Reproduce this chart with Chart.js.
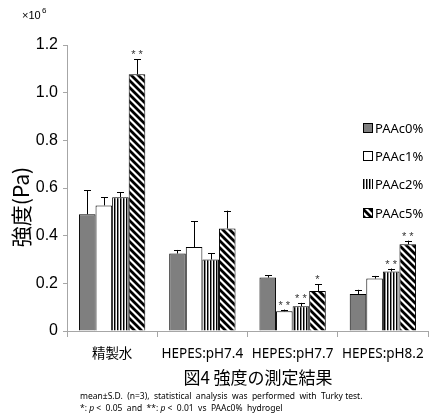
<!DOCTYPE html>
<html>
<head>
<meta charset="utf-8">
<script src="https://cdn.jsdelivr.net/npm/chart.js@4/dist/chart.umd.min.js"></script>
<style>
  html, body { margin: 0; padding: 0; background: #fff; }
  #wrap { width: 439px; height: 416px; }
</style>
</head>
<body>
<div id="wrap"><canvas id="c" width="439" height="416"></canvas></div>
<script>
// Categories (buffer conditions)
const categories = ['精製水', 'HEPES:pH7.4', 'HEPES:pH7.7', 'HEPES:pH8.2'];
const seriesNames = ['PAAc0%', 'PAAc1%', 'PAAc2%', 'PAAc5%'];

// Mean strength (×10^6 Pa)
const paac0 = [0.490, 0.325, 0.224, 0.155];
const paac1 = [0.527, 0.352, 0.083, 0.220];
const paac2 = [0.561, 0.300, 0.104, 0.250];
const paac5 = [1.077, 0.430, 0.168, 0.364];

// Standard deviations (×10^6 Pa)
const sd0 = [0.100, 0.015, 0.010, 0.018];
const sd1 = [0.034, 0.108, 0.007, 0.011];
const sd2 = [0.022, 0.026, 0.014, 0.012];
const sd5 = [0.063, 0.075, 0.029, 0.015];

// Significance marks vs PAAc0%
const sig0 = ['', '', '', ''];
const sig1 = ['', '', '**', ''];
const sig2 = ['', '', '**', '**'];
const sig5 = ['**', '', '*', '**'];

// Y axis tick values
const yTicks = [0, 0.2, 0.4, 0.6, 0.8, 1.0, 1.2];

const allSd = [sd0, sd1, sd2, sd5];
const allSig = [sig0, sig1, sig2, sig5];

// ---- fill patterns ----
function stripePattern() {
  const c = document.createElement('canvas');
  c.width = 3; c.height = 3;
  const g = c.getContext('2d');
  g.fillStyle = '#ffffff'; g.fillRect(0, 0, 3, 3);
  g.fillStyle = '#000000'; g.fillRect(0, 0, 1, 3);
  g.fillStyle = '#8a8a8a'; g.fillRect(1, 0, 1, 3);
  return g.createPattern(c, 'repeat');
}
function diagPattern() {
  const s = 7;
  const c = document.createElement('canvas');
  c.width = s; c.height = s;
  const g = c.getContext('2d');
  g.fillStyle = '#ffffff'; g.fillRect(0, 0, s, s);
  g.strokeStyle = '#000000'; g.lineWidth = 2.8;
  g.beginPath();
  g.moveTo(-s, 0); g.lineTo(s, 2 * s);
  g.moveTo(0, 0); g.lineTo(s, s);
  g.moveTo(0, -s); g.lineTo(2 * s, s);
  g.stroke();
  return g.createPattern(c, 'repeat');
}
const fills = ['#7f7f7f', '#ffffff', stripePattern(), diagPattern()];

// ---- error bars, significance marks, legend, captions ----
const decorations = {
  id: 'decorations',
  afterDatasetsDraw(chart) {
    const ctx = chart.ctx;
    const y = chart.scales.y;
    ctx.save();
    chart.data.datasets.forEach((ds, i) => {
      const meta = chart.getDatasetMeta(i);
      meta.data.forEach((bar, j) => {
        const v = ds.data[j];
        const top = y.getPixelForValue(v);
        const errTop = y.getPixelForValue(v + allSd[i][j]);
        const bx = Math.round(bar.x) + 0.5;
        ctx.strokeStyle = '#000';
        ctx.lineWidth = 1;
        ctx.beginPath();
        ctx.moveTo(bx, top);
        ctx.lineTo(bx, errTop);
        ctx.moveTo(bx - 3.5, Math.round(errTop) + 0.5);
        ctx.lineTo(bx + 3.5, Math.round(errTop) + 0.5);
        ctx.stroke();
        const mark = allSig[i][j];
        if (mark) {
          ctx.fillStyle = '#333';
          ctx.font = '11px "Liberation Sans", sans-serif';
          ctx.textAlign = 'center';
          ctx.textBaseline = 'alphabetic';
          ctx.fillText(mark.split('').join(' '), bar.x, errTop - 1);
        }
      });
    });
    ctx.restore();
  },
  afterDraw(chart) {
    const ctx = chart.ctx;
    ctx.save();
    // legend
    const lx = 363, ly = [128, 156, 184, 213];
    seriesNames.forEach((name, i) => {
      const yy = ly[i];
      ctx.fillStyle = fills[i];
      ctx.fillRect(lx, yy - 5, 10, 10);
      if (i !== 2) {
        ctx.strokeStyle = '#000'; ctx.lineWidth = 1;
        ctx.strokeRect(lx + 0.5, yy - 4.5, 9, 9);
      }
      ctx.fillStyle = '#000';
      ctx.font = '13px "Noto Sans", sans-serif';
      ctx.textAlign = 'left';
      ctx.textBaseline = 'middle';
      ctx.fillText(name, lx + 12, yy + 1);
    });
    // axis multiplier
    ctx.fillStyle = '#000';
    ctx.font = '11px "Liberation Sans", sans-serif';
    ctx.textAlign = 'left';
    ctx.textBaseline = 'alphabetic';
    ctx.fillText('×10', 22, 19);
    ctx.font = '8px "Liberation Sans", sans-serif';
    ctx.fillText('6', 42, 13);
    // y axis title
    ctx.save();
    ctx.translate(21, 207);
    ctx.rotate(-Math.PI / 2);
    ctx.font = '21px "Noto Sans CJK JP", sans-serif';
    ctx.textAlign = 'center';
    ctx.textBaseline = 'middle';
    ctx.fillText('強度(Pa)', 0, 0);
    ctx.restore();
    // figure caption
    ctx.font = '17px "Noto Sans CJK JP", sans-serif';
    ctx.textAlign = 'center';
    ctx.textBaseline = 'middle';
    ctx.fillText('図4 強度の測定結果', 258, 378);
    // footnote
    const fsz = '8.5px "Noto Sans", sans-serif';
    ctx.font = fsz;
    ctx.textAlign = 'left';
    ctx.textBaseline = 'middle';
    const fx = 80;
    ctx.fillText('mean±S.D.  (n=3),  statistical  analysis  was  performed  with  Turky test.', fx, 397);
    let x = fx;
    const part = (t, italic) => {
      ctx.font = (italic ? 'italic ' : '') + fsz;
      ctx.fillText(t, x, 409);
      x += ctx.measureText(t).width;
    };
    part('*: ', false); part('p', true); part(' <  0.05  and  **: ', false);
    part('p', true); part(' <  0.01  vs  PAAc0%  hydrogel', false);
    ctx.restore();
  }
};

const axisGray = '#a6a6a6';
new Chart(document.getElementById('c'), {
  type: 'bar',
  data: {
    labels: categories,
    datasets: [paac0, paac1, paac2, paac5].map((d, i) => ({
      label: seriesNames[i],
      data: d,
      backgroundColor: fills[i],
      borderColor: '#000',
      borderWidth: 1,
      barPercentage: 1.0,
      categoryPercentage: 0.735
    }))
  },
  options: {
    responsive: false,
    animation: false,
    devicePixelRatio: 1,
    layout: { padding: { left: 0, right: 11, top: 45, bottom: 0 } },
    plugins: { legend: { display: false }, tooltip: { enabled: false } },
    scales: {
      x: {
        grid: { offset: true, drawOnChartArea: false, color: axisGray, tickLength: 6 },
        border: { color: axisGray },
        ticks: {
          color: '#000',
          font: { family: '"Noto Sans", "Noto Sans CJK JP", sans-serif', size: 13.5 },
          padding: 9,
          maxRotation: 0
        },
        afterFit(s) { s.height = 85; }
      },
      y: {
        min: 0, max: 1.2,
        afterBuildTicks(s) { s.ticks = yTicks.map(v => ({ value: v })); },
        grid: { drawOnChartArea: false, color: axisGray, tickLength: 4 },
        border: { color: axisGray },
        ticks: {
          color: '#000',
          font: { family: '"Liberation Sans", sans-serif', size: 16 },
          padding: 5,
          callback: v => (v === 0 ? '0' : v.toFixed(1))
        },
        afterFit(s) { s.width = 67; }
      }
    }
  },
  plugins: [decorations]
});
</script>
</body>
</html>
